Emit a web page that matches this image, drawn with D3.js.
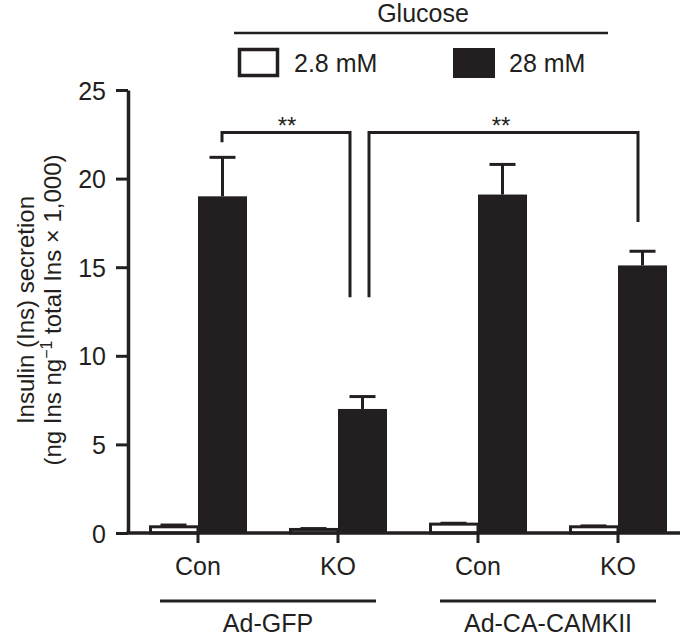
<!DOCTYPE html>
<html lang="en">
<head>
<meta charset="utf-8">
<script src="https://d3js.org/d3.v7.min.js"></script>
<style>
body { margin: 0; background: #fff; }
text { font-family: "Liberation Sans", Arial, sans-serif; fill: #231f20; }
</style>
</head>
<body>
<script>
// data
var groups = ["Con", "KO", "Con", "KO"];
var vectors = ["Ad-GFP", "Ad-CA-CAMKII"];
var series = ["2.8 mM", "28 mM"];
var lowGlc = [0.35, 0.2, 0.5, 0.35];
var lowErr = [0.1, 0.05, 0.05, 0.05];
var highGlc = [19.0, 7.0, 19.1, 15.1];
var highErr = [2.2, 0.7, 1.7, 0.8];
var yTicks = [0, 5, 10, 15, 20, 25];

var width = 685, height = 636;
var ink = "#231f20";

var svg = d3.select("body").append("svg")
  .attr("width", width)
  .attr("height", height);

var x = d3.scaleBand().domain(d3.range(groups.length)).range([128, 688]);
var xs = d3.scaleBand().domain([0, 1]).range([-49, 49]);
var y = d3.scaleLinear().domain([0, 25]).range([533, 90]);

// bars
var rows = groups.map(function(g, i) {
  return [
    {g: i, s: 0, v: lowGlc[i], e: lowErr[i]},
    {g: i, s: 1, v: highGlc[i], e: highErr[i]}
  ];
});
var flat = d3.merge(rows);

function cx(d) { return x(d.g) + x.bandwidth() / 2 + xs(d.s); }

// error bars (upward only)
svg.selectAll("line.err")
  .data(flat)
  .enter().append("line")
  .attr("x1", function(d) { return cx(d) + xs.bandwidth() / 2; })
  .attr("x2", function(d) { return cx(d) + xs.bandwidth() / 2; })
  .attr("y1", function(d) { return y(d.v); })
  .attr("y2", function(d) { return y(d.v + d.e); })
  .style("stroke", ink).style("stroke-width", 3);
svg.selectAll("line.cap")
  .data(flat)
  .enter().append("line")
  .attr("x1", function(d) { return cx(d) + xs.bandwidth() / 2 - 13; })
  .attr("x2", function(d) { return cx(d) + xs.bandwidth() / 2 + 13; })
  .attr("y1", function(d) { return y(d.v + d.e); })
  .attr("y2", function(d) { return y(d.v + d.e); })
  .style("stroke", ink).style("stroke-width", 3);

svg.selectAll("rect.bar")
  .data(flat)
  .enter().append("rect")
  .attr("x", function(d) { return d.s == 0 ? cx(d) + 1.5 : cx(d); })
  .attr("y", function(d) { return y(d.v); })
  .attr("width", function(d) { return d.s == 0 ? xs.bandwidth() - 1.5 : xs.bandwidth(); })
  .attr("height", function(d) { return y(0) - y(d.v); })
  .style("fill", function(d) { return d.s == 0 ? "#fff" : ink; })
  .style("stroke", ink)
  .style("stroke-width", function(d) { return d.s == 0 ? 3 : 0; });

// y axis
var yAxis = svg.append("g")
  .attr("transform", "translate(128,0)")
  .call(d3.axisLeft(y).tickValues(yTicks).tickSize(12).tickSizeOuter(0).tickPadding(10));
yAxis.select(".domain").style("stroke", ink).style("stroke-width", 3.5);
yAxis.selectAll(".tick line").style("stroke", ink).style("stroke-width", 3);
yAxis.selectAll(".tick text").style("font-size", "25px").style("font-family", "Liberation Sans, Arial, sans-serif").attr("fill", ink).attr("dy", "0.36em");

// x axis baseline + ticks
svg.append("line")
  .attr("x1", 126.5).attr("x2", 680)
  .attr("y1", y(0)).attr("y2", y(0))
  .style("stroke", ink).style("stroke-width", 3.5);
svg.selectAll("line.xtick")
  .data(groups)
  .enter().append("line")
  .attr("x1", function(d, i) { return x(i) + x.bandwidth() / 2; })
  .attr("x2", function(d, i) { return x(i) + x.bandwidth() / 2; })
  .attr("y1", y(0)).attr("y2", y(0) + 10)
  .style("stroke", ink).style("stroke-width", 3);
svg.selectAll("text.xlab")
  .data(groups)
  .enter().append("text")
  .attr("x", function(d, i) { return x(i) + x.bandwidth() / 2; })
  .attr("y", 575)
  .attr("text-anchor", "middle")
  .style("font-size", "25px")
  .text(function(d) { return d; });

// vector group lines and labels
vectors.forEach(function(v, k) {
  var c = (x(2 * k) + x(2 * k + 1) + x.bandwidth()) / 2;
  svg.append("line")
    .attr("x1", c - 108).attr("x2", c + 108)
    .attr("y1", 601).attr("y2", 601)
    .style("stroke", ink).style("stroke-width", 3);
  svg.append("text")
    .attr("x", c).attr("y", 632)
    .attr("text-anchor", "middle")
    .style("font-size", "25px")
    .text(v);
});

// y axis label
var ylab = svg.append("text")
  .attr("transform", "translate(34,310) rotate(-90)")
  .attr("text-anchor", "middle")
  .style("font-size", "24px");
ylab.append("tspan").attr("x", 0).attr("y", 0).text("Insulin (Ins) secretion");
var l2 = ylab.append("tspan").attr("x", 0).attr("y", 27);
l2.append("tspan").text("(ng Ins ng");
l2.append("tspan").attr("dy", -9).style("font-size", "16px").text("\u22121");
l2.append("tspan").attr("dy", 9).text(" total Ins \u00d7 1,000)");

// significance brackets
var sig = [
  {x1: x(0) + x.bandwidth() / 2 + 24, x2: x(1) + x.bandwidth() / 2 + 12, yTop: 22.6, yL: 22.05, yR: 13.3, label: "**"},
  {x1: x(1) + x.bandwidth() / 2 + 31, x2: x(3) + x.bandwidth() / 2 + 20, yTop: 22.6, yL: 13.3, yR: 17.55, label: "**"}
];
sig.forEach(function(s) {
  svg.append("path")
    .attr("d", "M" + s.x1 + "," + y(s.yL) + "V" + y(s.yTop) + "H" + s.x2 + "V" + y(s.yR))
    .style("fill", "none").style("stroke", ink).style("stroke-width", 3);
});
svg.append("text").attr("x", 287).attr("y", 134).attr("text-anchor", "middle")
  .style("font-size", "24px").text(sig[0].label);
svg.append("text").attr("x", 501).attr("y", 134).attr("text-anchor", "middle")
  .style("font-size", "24px").text(sig[1].label);

// legend
svg.append("text").attr("x", 423).attr("y", 22).attr("text-anchor", "middle")
  .style("font-size", "25px").text("Glucose");
svg.append("line").attr("x1", 234).attr("x2", 608).attr("y1", 33).attr("y2", 33)
  .style("stroke", ink).style("stroke-width", 2.5);
var legX = [238, 453];
series.forEach(function(s, i) {
  svg.append("rect")
    .attr("x", legX[i] + (i == 0 ? 1.5 : 0)).attr("y", 48 + (i == 0 ? 1.5 : 0))
    .attr("width", i == 0 ? 38 : 42).attr("height", i == 0 ? 26 : 30)
    .style("fill", i == 0 ? "#fff" : ink)
    .style("stroke", ink).style("stroke-width", i == 0 ? 3.5 : 0);
  svg.append("text").attr("x", legX[i] + 56).attr("y", 72)
    .style("font-size", "25px").text(s);
});
</script>
</body>
</html>
